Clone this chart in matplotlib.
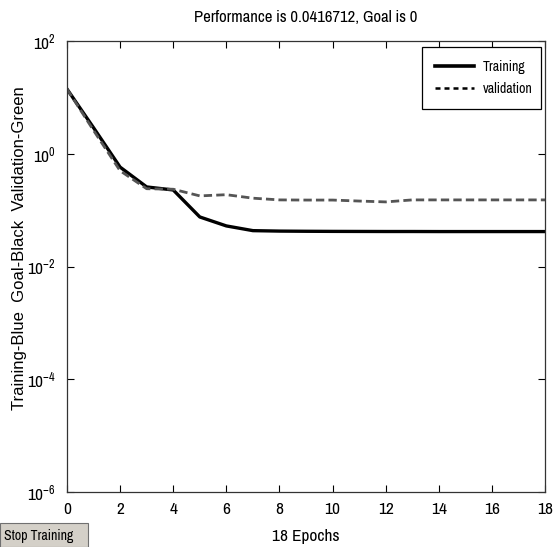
import matplotlib
matplotlib.use("Agg")
import matplotlib.pyplot as plt
from matplotlib.lines import Line2D
from matplotlib.patches import Rectangle
from matplotlib import font_manager as fm

available = set(f.name for f in fm.fontManager.ttflist)
narrow = next((n for n in ['Liberation Sans Narrow', 'Arial Narrow', 'Archivo Narrow',
                           'Roboto Condensed', 'PT Sans Narrow', 'Liberation Sans']
               if n in available), 'DejaVu Sans')
plt.rcParams['font.family'] = [narrow, 'Liberation Sans', 'DejaVu Sans']
plt.rcParams['mathtext.fontset'] = 'custom'
plt.rcParams['mathtext.rm'] = narrow
plt.rcParams['mathtext.it'] = narrow

epochs = list(range(19))
training = [14.1, 2.9, 0.58, 0.258, 0.228, 0.0757, 0.0525, 0.0433, 0.0425,
            0.0422, 0.0420, 0.0419, 0.0418, 0.0418, 0.0417, 0.0417, 0.0417, 0.0417, 0.0417]
validation = [14.1, 2.6, 0.50, 0.24, 0.235, 0.179, 0.188, 0.163, 0.152,
              0.151, 0.151, 0.145, 0.140, 0.152, 0.152, 0.152, 0.152, 0.152, 0.152]
xticks = [0, 2, 4, 6, 8, 10, 12, 14, 16, 18]
yticks = [1e2, 1e0, 1e-2, 1e-4, 1e-6]
ytick_labels = [r'$10^{2}$', r'$10^{0}$', r'$10^{-2}$', r'$10^{-4}$', r'$10^{-6}$']

fig = plt.figure(figsize=(5.58, 5.47), dpi=100)
ax = fig.add_axes([0.120, 0.1005, 0.857, 0.8245])

ax.plot(epochs, training, color='black', lw=2.4, solid_joinstyle='round')
ax.plot(epochs, validation, color='#555555', lw=2.0, linestyle=(0, (3, 1.5)))

ax.set_yscale('log')
ax.set_xlim(0, 18)
ax.set_ylim(1e-6, 1e2)
ax.set_xticks(xticks)
ax.set_xticklabels([str(t) for t in xticks], fontsize=12.5)
ax.set_yticks(yticks)
ax.set_yticklabels(ytick_labels, fontsize=12.5)
ax.yaxis.set_minor_locator(matplotlib.ticker.NullLocator())
ax.tick_params(direction='in', top=True, right=True, length=5, width=0.8)
ax.tick_params(axis='x', pad=7)
ax.tick_params(axis='y', pad=8)
for s in ax.spines.values():
    s.set_linewidth(0.9)
    s.set_color('#333333')

fig.text(0.5 * (67 + 545) / 558, 1 - 18 / 547, 'Performance is 0.0416712, Goal is 0',
         ha='center', va='center', fontsize=12)
ax.set_xlabel('18 Epochs', fontsize=12.5)
ax.xaxis.set_label_coords(0.5, (492 - 536) / 451)
ax.xaxis.label.set_va('center')
ax.set_ylabel('Training-Blue  Goal-Black  Validation-Green', fontsize=12,
              family=['Liberation Sans', 'DejaVu Sans'])
ax.yaxis.set_label_coords((20 - 67) / 478, 0.54)
ax.yaxis.label.set_va('center')

handles = [Line2D([], [], color='black', lw=2.6),
           Line2D([], [], color='black', lw=1.8, linestyle=(0, (2, 1.6)))]
leg = ax.legend(handles, ['Training', 'validation'], loc='upper left',
                bbox_to_anchor=((422 - 67) / 478, (492 - 106) / 451, 119 / 478, 59 / 451),
                mode='expand', fontsize=10,
                frameon=True, fancybox=False, edgecolor='black', framealpha=1,
                borderaxespad=0, handlelength=2.8, borderpad=0.95, handletextpad=0.6,
                labelspacing=0.55)
leg.get_frame().set_linewidth(0.9)

# Stop Training button
fig.patches.append(Rectangle((0, 0), 88 / 558, 24 / 547, transform=fig.transFigure,
                             facecolor='#d4d0c8', edgecolor='#707070', lw=0.8))
fig.text(39 / 558, 11 / 547, 'Stop Training', ha='center', va='center', fontsize=10)

fig.savefig('out.png', dpi=100, facecolor='white')
